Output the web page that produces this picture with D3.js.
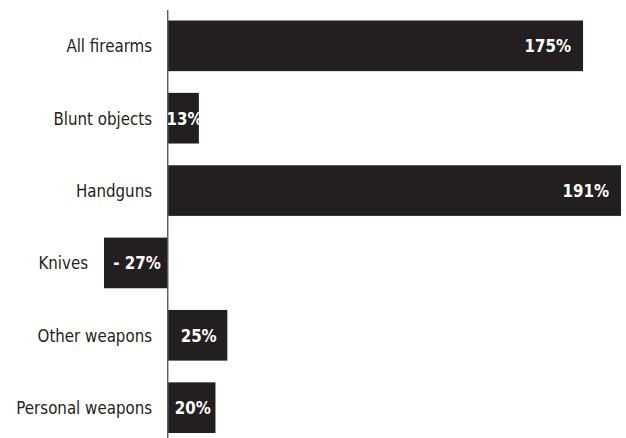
<!DOCTYPE html>
<html>
<head>
<meta charset="utf-8">
<script src="https://cdn.jsdelivr.net/npm/d3@7"></script>
<style>
  html, body { margin: 0; padding: 0; background: #fff; }
  svg { display: block; }
  .cat { font-family: "DejaVu Sans Condensed", "Liberation Sans Narrow", "Roboto", sans-serif; font-stretch: condensed; font-size: 18px; fill: #231f20; }
  .val { font-family: "DejaVu Sans Condensed", "Liberation Sans Narrow", "Roboto", sans-serif; font-stretch: condensed; font-size: 18px; font-weight: bold; fill: #fff; }
</style>
</head>
<body>
<script>
const categories = ["All firearms", "Blunt objects", "Handguns", "Knives", "Other weapons", "Personal weapons"];
const values = [175, 13, 191, -27, 25, 20];

const W = 626, H = 438;
const svg = d3.select("body").append("svg").attr("width", W).attr("height", H);

const x = d3.scaleLinear().domain([-27, 191]).range([104, 621]);
const y = d3.scaleBand().domain(categories).range([20.5, 433]).paddingInner(0.3).paddingOuter(0);

const data = categories.map((c, i) => ({ c, v: values[i] }));

svg.selectAll("rect.bar").data(data).enter().append("rect")
  .attr("class", "bar")
  .attr("x", d => Math.min(x(0), x(d.v)))
  .attr("y", d => y(d.c))
  .attr("width", d => Math.abs(x(d.v) - x(0)))
  .attr("height", y.bandwidth())
  .attr("fill", "#231f20");

// zero axis line
svg.append("line")
  .attr("x1", x(0) - 0.3).attr("x2", x(0) - 0.3)
  .attr("y1", 10).attr("y2", H)
  .attr("stroke", "#5a5a5c").attr("stroke-width", 1.4);

// category labels
svg.selectAll("text.cat").data(data).enter().append("text")
  .attr("class", "cat")
  .attr("transform", d => `translate(${Math.min(x(0), x(d.v)) - 16},${y(d.c) + y.bandwidth() / 2}) scale(0.93,1)`)
  .attr("dy", "0.36em")
  .attr("text-anchor", "end")
  .text(d => d.c);

// value labels
const fmt = v => (v < 0 ? "- " + Math.abs(v) : v) + "%";
const big = d => Math.abs(x(d.v) - x(0)) > 100;
svg.selectAll("text.val").data(data).enter().append("text")
  .attr("class", "val")
  .attr("transform", d => {
    const tx = big(d) ? x(d.v) - 12 : (x(0) + x(d.v)) / 2 + 1;
    return `translate(${tx},${y(d.c) + y.bandwidth() / 2}) scale(0.93,1)`;
  })
  .attr("dy", "0.36em")
  .attr("text-anchor", d => big(d) ? "end" : "middle")
  .text(d => fmt(d.v));
</script>
</body>
</html>
